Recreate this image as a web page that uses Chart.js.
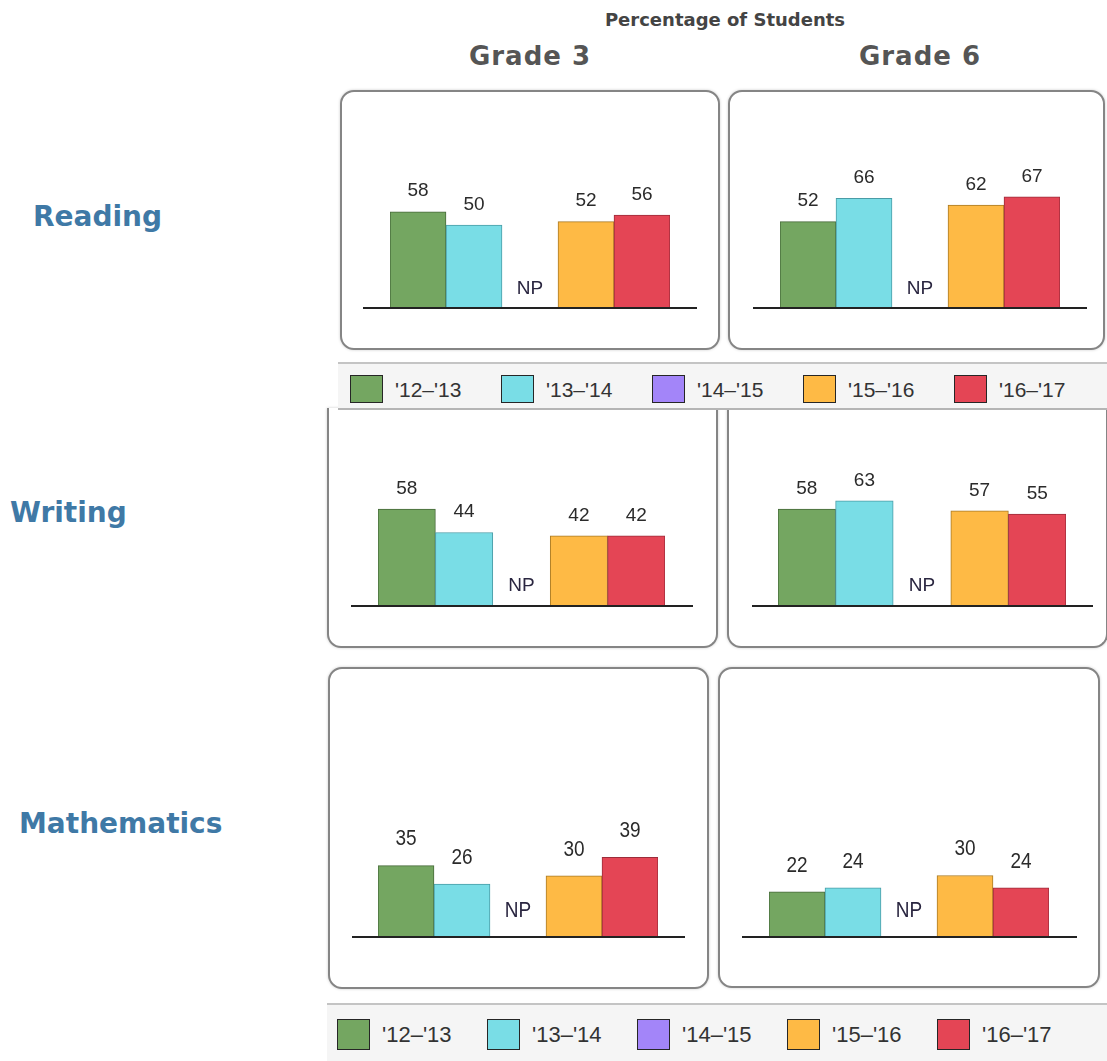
<!DOCTYPE html>
<html>
<head>
<meta charset="utf-8">
<script src="https://cdn.jsdelivr.net/npm/chart.js@4.4.0/dist/chart.umd.min.js"></script>
<style>
body { margin:0; background:#fff; width:1107px; height:1061px; position:relative; overflow:hidden; font-family:"Liberation Sans", Arial, sans-serif; }
.box { position:absolute; border:2px solid #858585; border-radius:14px; box-sizing:border-box; box-shadow:0 0 3px rgba(0,0,0,0.2); background:#fff; }
.head { position:absolute; font-family:"DejaVu Sans", sans-serif; font-weight:bold; line-height:1; white-space:nowrap; }
.rowlab { color:#3f79a6; font-size:28px; }
.grade { color:#555; font-size:26px; letter-spacing:1px; width:300px; text-align:center; }
.legend { position:absolute; background:#f5f5f5; border-top:2px solid #c4c4c4; box-sizing:border-box; z-index:5; }
.sw { position:absolute; border:1.5px solid #262626; box-sizing:border-box; }
.lt { position:absolute; color:#333; white-space:nowrap; line-height:1; }
canvas { position:absolute; z-index:2; }
</style>
</head>
<body>
<div class="head" style="left:575px; top:11px; width:300px; text-align:center; font-size:18px; color:#444;">Percentage of Students</div>
<div class="head grade" style="left:380px; top:43px;">Grade 3</div>
<div class="head grade" style="left:770px; top:43px;">Grade 6</div>
<div class="head rowlab" style="left:33px; top:203px;">Reading</div>
<div class="head rowlab" style="left:10px; top:499px;">Writing</div>
<div class="head rowlab" style="left:19px; top:810px;">Mathematics</div>

<script>
const years = ["'12–'13", "'13–'14", "'14–'15", "'15–'16", "'16–'17"];
const colors = ['#74a661', '#79dde6', '#a385f9', '#feba45', '#e44555'];
const edgeColors = ['#46693a', '#4a9ca6', '#6c55c0', '#a87a26', '#9c2c3a'];

// null = NP (not provided)
const readingGrade3 = [58, 50, null, 52, 56];
const readingGrade6 = [52, 66, null, 62, 67];
const writingGrade3 = [58, 44, null, 42, 42];
const writingGrade6 = [58, 63, null, 57, 55];
const mathGrade3 = [35, 26, null, 30, 39];
const mathGrade6 = [22, 24, null, 30, 24];

// page layout of each panel: box, bar span, baseline, px per unit
const panels = [
  { data: readingGrade3, x: 340, y: 90,  r: 720,  b: 350, barL: 390, barR: 670,  base: 308, lineL: 363, lineR: 697,  ppu: 1.66, gap: 11, np: 19, sy: 1 },
  { data: readingGrade6, x: 728, y: 90,  r: 1105, b: 350, barL: 780, barR: 1060, base: 308, lineL: 753, lineR: 1087, ppu: 1.66, gap: 11, np: 19, sy: 1 },
  { data: writingGrade3, x: 327, y: 408, r: 718,  b: 648, barL: 378, barR: 665,  base: 606, lineL: 351, lineR: 693,  ppu: 1.67, gap: 11, np: 20, sy: 1, openTop: true },
  { data: writingGrade6, x: 727, y: 408, r: 1108, b: 648, barL: 778, barR: 1066, base: 606, lineL: 752, lineR: 1093, ppu: 1.67, gap: 11, np: 20, sy: 1, openTop: true },
  { data: mathGrade3,    x: 328, y: 667, r: 709,  b: 989, barL: 378, barR: 658,  base: 937, lineL: 352, lineR: 685,  ppu: 2.04, gap: 15, np: 26, sy: 1.2 },
  { data: mathGrade6,    x: 718, y: 667, r: 1100, b: 988, barL: 769, barR: 1049, base: 937, lineL: 742, lineR: 1077, ppu: 2.05, gap: 15, np: 26, sy: 1.2 }
];

const panelMarks = {
  id: 'panelMarks',
  afterDatasetsDraw(chart, args, opts) {
    const ctx = chart.ctx;
    const area = chart.chartArea;
    const y0 = chart.scales.y.getPixelForValue(0);
    ctx.save();
    ctx.strokeStyle = '#222';
    ctx.lineWidth = 2;
    ctx.beginPath();
    ctx.moveTo(area.left - opts.out[0], y0);
    ctx.lineTo(area.right + opts.out[1], y0);
    ctx.stroke();

    const values = chart.data.datasets[0].data;
    const meta = chart.getDatasetMeta(0);
    ctx.textAlign = 'center';
    ctx.font = '19px "Liberation Sans", Arial, sans-serif';
    values.forEach((v, i) => {
      let x = chart.scales.x.getPixelForValue(i), y, text;
      if (v == null) {
        text = 'NP';
        y = y0 - opts.np;
        ctx.textBaseline = 'middle';
        ctx.fillStyle = '#2a2640';
      } else {
        text = String(v);
        y = meta.data[i].y - opts.gap;
        ctx.textBaseline = 'bottom';
        ctx.fillStyle = '#2b2b2b';
      }
      ctx.save();
      ctx.translate(x, y);
      ctx.scale(1, opts.sy);
      ctx.fillText(text, 0, 0);
      ctx.restore();
    });
    ctx.restore();
  }
};

panels.forEach(p => {
  const w = p.r - p.x, h = p.b - p.y;
  const box = document.createElement('div');
  box.className = 'box';
  Object.assign(box.style, { left: p.x + 'px', top: p.y + 'px', width: w + 'px', height: h + 'px' });
  if (p.openTop) {
    box.style.borderTop = 'none';
    box.style.borderTopLeftRadius = '0';
    box.style.borderTopRightRadius = '0';
  }
  document.body.appendChild(box);

  const canvas = document.createElement('canvas');
  canvas.width = w;
  canvas.height = h;
  Object.assign(canvas.style, { left: p.x + 'px', top: p.y + 'px' });
  document.body.appendChild(canvas);

  new Chart(canvas, {
    type: 'bar',
    data: {
      labels: years,
      datasets: [{
        data: p.data,
        backgroundColor: colors,
        borderColor: edgeColors,
        borderWidth: 1,
        barPercentage: 1,
        categoryPercentage: 1
      }]
    },
    options: {
      responsive: false,
      animation: false,
      devicePixelRatio: 1,
      layout: { padding: { left: p.barL - p.x, right: p.r - p.barR, top: 0, bottom: p.b - p.base } },
      scales: {
        x: { display: false },
        y: { display: false, min: 0, max: (p.base - p.y) / p.ppu }
      },
      plugins: {
        legend: { display: false },
        tooltip: { enabled: false },
        panelMarks: { out: [p.barL - p.lineL, p.lineR - p.barR], gap: p.gap, np: p.np, sy: p.sy }
      }
    },
    plugins: [panelMarks]
  });
});

// two legend bands
const legends = [
  { x: 338, y: 362, h: 48, swX: 350, step: 151, swY: 373, swW: 33, swH: 28, font: 21, border: true },
  { x: 327, y: 1003, h: 58, swX: 337, step: 150, swY: 1017, swW: 33, swH: 31, font: 22, border: false }
];
legends.forEach(l => {
  const band = document.createElement('div');
  band.className = 'legend';
  Object.assign(band.style, { left: l.x + 'px', top: l.y + 'px', width: (1107 - l.x) + 'px', height: l.h + 'px' });
  if (l.border) band.style.borderBottom = '2px solid #b5b5b5';
  document.body.appendChild(band);
  years.forEach((yr, i) => {
    const sw = document.createElement('div');
    sw.className = 'sw';
    Object.assign(sw.style, {
      left: (l.swX + i * l.step - l.x) + 'px', top: (l.swY - l.y) + 'px',
      width: l.swW + 'px', height: l.swH + 'px', background: colors[i]
    });
    band.appendChild(sw);
    const t = document.createElement('div');
    t.className = 'lt';
    t.textContent = yr;
    Object.assign(t.style, {
      left: (l.swX + i * l.step + 45 - l.x) + 'px',
      top: (l.swY - l.y + l.swH / 2 - l.font / 2) + 'px',
      fontSize: l.font + 'px'
    });
    band.appendChild(t);
  });
});
</script>
</body>
</html>
